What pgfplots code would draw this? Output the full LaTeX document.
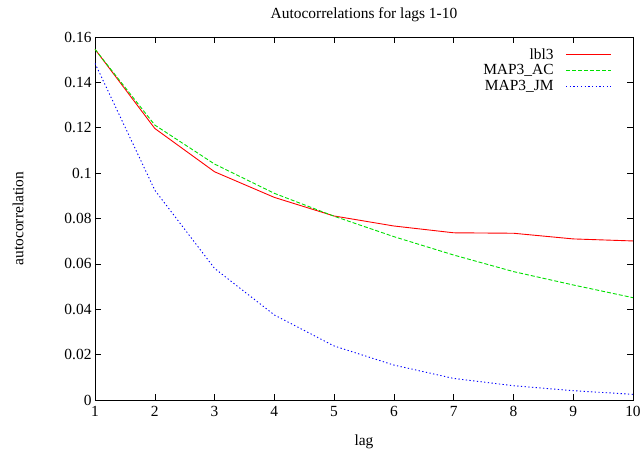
\documentclass[border=0pt]{standalone}
\usepackage{pgfplots}
\pgfplotsset{compat=1.18}
\usepackage{fontspec}
\setmainfont{Liberation Serif}
\definecolor{gpred}{HTML}{FF0000}
\definecolor{gpgreen}{HTML}{00E000}
\definecolor{gpblue}{HTML}{0000FF}

\begin{document}
\begin{tikzpicture}
\begin{axis}[
  scale only axis,
  width=538bp,
  height=363bp,
  xmin=1, xmax=10,
  ymin=0, ymax=0.16,
  xtick={1,2,...,10},
  ytick={0,0.02,0.04,0.06,0.08,0.1,0.12,0.14,0.16},
  scaled y ticks=false,
  /pgf/number format/fixed,
  /pgf/number format/precision=2,
  /pgf/number format/assume math mode=true,
  tick align=inside,
  major tick length=6bp,
  tick style={black, line width=0.5pt},
  axis line style={line width=0.8pt},
  font=\fontsize{15.5}{18}\selectfont,
  ticklabel style={font=\fontsize{15.5}{18}\selectfont},
  xticklabel style={yshift=-3bp},
  title={Autocorrelations for lags 1-10},
  title style={yshift=6bp},
  xlabel={lag},
  ylabel={autocorrelation},
  xlabel style={yshift=-11bp},
  ylabel style={yshift=34bp},
  legend style={draw=none, fill=none, at={(rel axis cs:0.966,0.98)}, anchor=north east,
    font=\fontsize{15.5}{18}\selectfont, row sep=0bp},
  legend cell align=right,
  legend plot pos=right,
  legend image code/.code={\path (0bp,0bp); \draw[#1] (10bp,0bp) -- (55bp,0bp);},
]
\addplot[gpred, line width=0.9pt] coordinates {
  (1,0.1546) (2,0.1197) (3,0.1006) (4,0.0893) (5,0.0811)
  (6,0.0767) (7,0.0737) (8,0.0735) (9,0.0710) (10,0.0701)
};
\addlegendentry{lbl3}
\addplot[gpgreen, line width=0.9pt, dash pattern=on 4bp off 2bp] coordinates {
  (1,0.1546) (2,0.1212) (3,0.1040) (4,0.0911) (5,0.0810)
  (6,0.0720) (7,0.0639) (8,0.0566) (9,0.0507) (10,0.0451)
};
\addlegendentry{MAP3\_AC}
\addplot[gpblue, line width=0.9pt, dash pattern=on 1.3bp off 2.4bp] coordinates {
  (1,0.1484) (2,0.0925) (3,0.0580) (4,0.0375) (5,0.0238)
  (6,0.0154) (7,0.0095) (8,0.0063) (9,0.0041) (10,0.0025)
};
\addlegendentry{MAP3\_JM}
\end{axis}
\pgfresetboundingbox
\useasboundingbox (current axis.south west) ++(-95bp,-51bp) rectangle ++(642bp,451bp);
\end{tikzpicture}
\end{document}
